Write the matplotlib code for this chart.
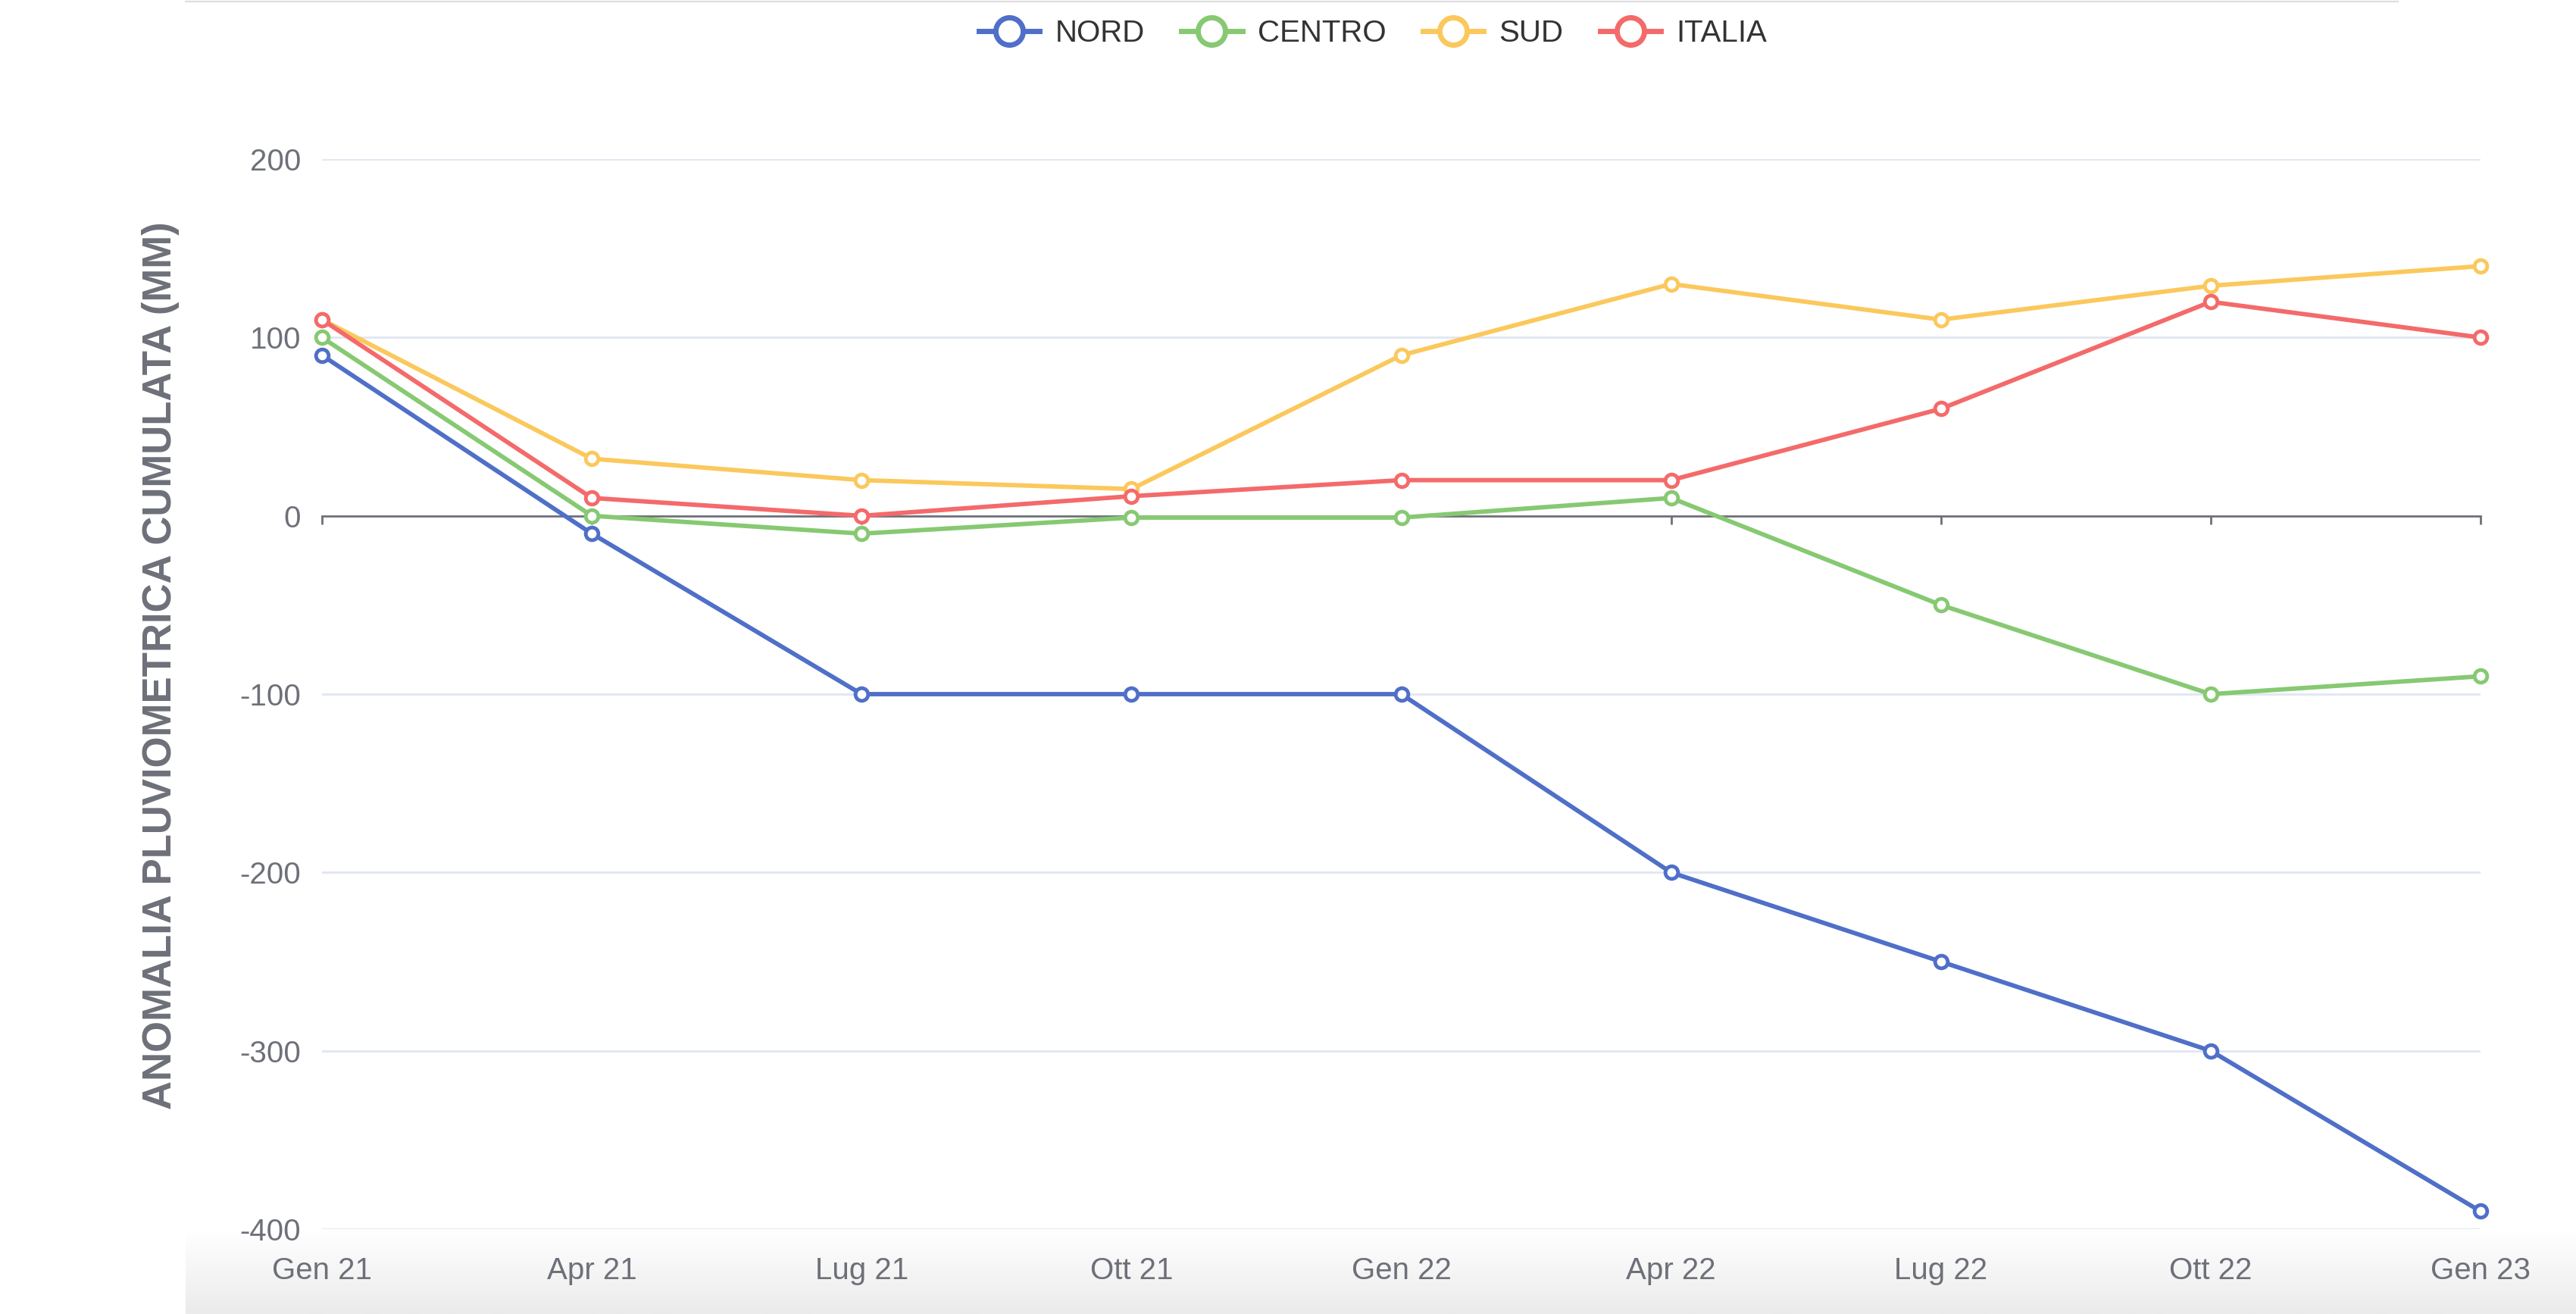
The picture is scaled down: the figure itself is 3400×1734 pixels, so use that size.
import numpy as np
import matplotlib
matplotlib.use("Agg")
import matplotlib.pyplot as plt
from matplotlib.lines import Line2D
from matplotlib.colors import LinearSegmentedColormap

categories = ["Gen 21", "Apr 21", "Lug 21", "Ott 21", "Gen 22", "Apr 22", "Lug 22", "Ott 22", "Gen 23"]
nord = [90, -10, -100, -100, -100, -200, -250, -300, -390]
centro = [100, 0, -10, -1, -1, 10, -50, -100, -90]
sud = [110, 32, 20, 15, 90, 130, 110, 129, 140]
italia = [110, 10, 0, 11, 20, 20, 60, 120, 100]
series_names = ["NORD", "CENTRO", "SUD", "ITALIA"]
series_values = [nord, centro, sud, italia]
colors = ["#4f6fc8", "#86c972", "#fbc85c", "#f46a6a"]
yticks = [-400, -300, -200, -100, 0, 100, 200]

plt.rcParams['font.family'] = ['Liberation Sans', 'DejaVu Sans']
TXT = "#6e7079"

fig = plt.figure(figsize=(34, 17.34), dpi=100)

# bottom shading (screenshot background)
bg = fig.add_axes([245/3400, 0, 1 - 245/3400, 110/1734], zorder=-5)
grad = np.linspace(0, 1, 100).reshape(-1, 1)
cm = LinearSegmentedColormap.from_list("g", ["#ebebeb", "#ffffff"])
bg.imshow(grad, aspect="auto", cmap=cm, origin="lower", extent=[0, 1, 0, 1])
bg.axis("off")

# top border line
fig.add_artist(Line2D([245/3400, 3165/3400], [1 - 2/1734, 1 - 2/1734],
                      transform=fig.transFigure, color="#dcdcdc", lw=1.5))

ax = fig.add_axes([425/3400, 1 - 1622/1734, (3274 - 425)/3400, (1622 - 210)/1734])
ax.patch.set_alpha(0)
x = np.arange(len(categories))
for name, vals, c in zip(series_names, series_values, colors):
    ax.plot(x, vals, color=c, lw=4.2, marker="o", markersize=12, markerfacecolor="white",
            markeredgecolor=c, markeredgewidth=3.5, clip_on=False, label=name, zorder=3)

ax.set_xlim(0, len(categories) - 1)
ax.set_ylim(-400, 200)
ax.set_yticks(yticks)
ax.set_yticklabels([str(v) for v in yticks])
for v in yticks:
    if v != 0:
        ax.axhline(v, color="#e0e6f1", lw=2, zorder=1)
for s in ["left", "right", "top"]:
    ax.spines[s].set_visible(False)
ax.spines["bottom"].set_position(("data", 0))
ax.spines["bottom"].set_color(TXT)
ax.spines["bottom"].set_linewidth(2)
ax.spines["bottom"].set_zorder(2)
ax.set_xticks(x)
ax.tick_params(axis="x", direction="out", length=8, width=2, color=TXT, labelbottom=False)
ax.tick_params(axis="y", length=0, pad=20, labelsize=29, labelcolor=TXT)

sec = ax.secondary_xaxis(0.0)
sec.set_xticks(x)
sec.set_xticklabels(categories)
sec.tick_params(length=0, pad=26, labelsize=29, labelcolor=TXT)
sec.spines["bottom"].set_visible(False)

fig.text(212/3400, 1 - 878/1734, "ANOMALIA PLUVIOMETRICA CUMULATA (MM)", rotation=90,
         ha="center", va="center", fontsize=38, fontweight="bold", color=TXT)

handles = [Line2D([0], [0], color=c, lw=5, marker="o", markersize=26, markerfacecolor="white",
                  markeredgecolor=c, markeredgewidth=5) for c in colors]
fig.legend(handles, series_names, loc="center", bbox_to_anchor=(0.533, 1 - 44/1734), ncol=4,
           frameon=False, fontsize=29, handlelength=2.0, handletextpad=0.5, columnspacing=1.2,
           labelcolor="#333333")

fig.savefig("out.png", dpi=100)
